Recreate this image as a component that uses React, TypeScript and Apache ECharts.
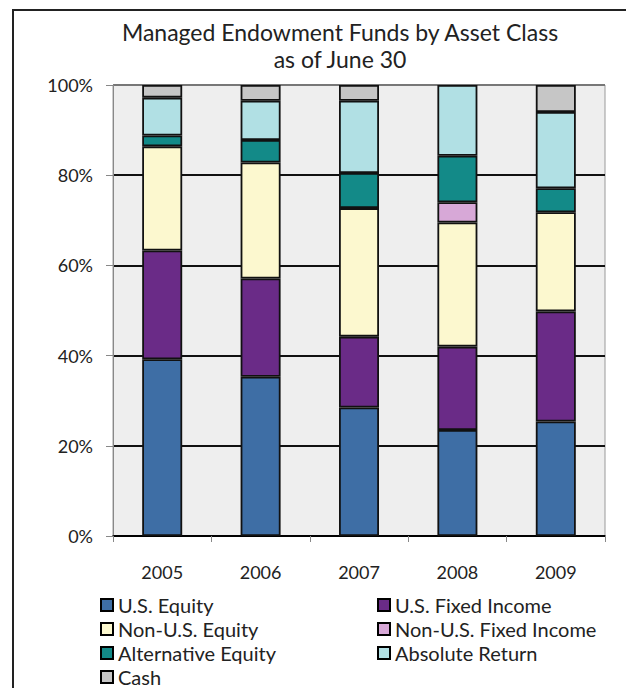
import React, { useEffect, useRef } from "react";
import * as echarts from "echarts";

const years = ["2005", "2006", "2007", "2008", "2009"];
const usEquity = [39.2, 35.3, 28.5, 23.5, 25.4];
const usFixedIncome = [24.1, 21.8, 15.7, 18.5, 24.4];
const nonUsEquity = [23.1, 25.7, 28.5, 27.5, 22.0];
const nonUsFixedIncome = [0, 0, 0, 4.5, 0];
const alternativeEquity = [2.4, 5.0, 7.8, 10.3, 5.3];
const absoluteReturn = [8.4, 8.7, 16.0, 15.7, 16.9];
const cash = [2.8, 3.5, 3.5, 0, 6.0];

const seriesDefs = [
  { name: "U.S. Equity", data: usEquity, color: "#3E6EA5" },
  { name: "U.S. Fixed Income", data: usFixedIncome, color: "#6A2B87" },
  { name: "Non-U.S. Equity", data: nonUsEquity, color: "#FCF8CF" },
  { name: "Non-U.S. Fixed Income", data: nonUsFixedIncome, color: "#D7A8D7" },
  { name: "Alternative Equity", data: alternativeEquity, color: "#138A88" },
  { name: "Absolute Return", data: absoluteReturn, color: "#B1E0E4" },
  { name: "Cash", data: cash, color: "#C6C6C6" },
];

const FONT = "Lato, 'Open Sans', sans-serif";

export default function App() {
  const ref = useRef<HTMLDivElement>(null);
  useEffect(() => {
    document.body.style.margin = "0";
    document.body.style.overflow = "hidden";
    const chart = echarts.init(ref.current!, null, { renderer: "svg" });
    const legendText = { fontFamily: FONT, fontSize: 20, color: "#222", lineHeight: 20 };
    const legendBase = {
      orient: "vertical",
      top: 595,
      height: 120,
      padding: 0,
      itemWidth: 12,
      itemHeight: 12,
      itemGap: 4,
      icon: "rect",
      itemStyle: { borderColor: "#000", borderWidth: 2 },
      textStyle: legendText,
    };
    chart.setOption({
      animation: false,
      backgroundColor: "#ffffff",
      grid: {
        left: 113,
        top: 85,
        right: 21,
        bottom: 152,
        show: true,
        backgroundColor: "#EEEEEE",
        borderColor: "#9A9A9A",
        borderWidth: 1,
      },
      graphic: [
        {
          type: "rect",
          shape: { x: 13, y: 10, width: 700, height: 700 },
          style: { fill: "none", stroke: "#222", lineWidth: 2 },
          silent: true,
        },
        {
          type: "text",
          x: 340,
          y: 32,
          style: {
            text: "Managed Endowment Funds by Asset Class",
            align: "center",
            verticalAlign: "middle",
            fontFamily: FONT,
            fontSize: 23,
            fill: "#222",
          },
        },
        {
          type: "text",
          x: 340,
          y: 59,
          style: {
            text: "as of June 30",
            align: "center",
            verticalAlign: "middle",
            fontFamily: FONT,
            fontSize: 23,
            fill: "#222",
          },
        },
      ],
      legend: [
        {
          ...legendBase,
          left: 100,
          data: ["U.S. Equity", "Non-U.S. Equity", "Alternative Equity", "Cash"],
        },
        {
          ...legendBase,
          left: 377,
          data: ["U.S. Fixed Income", "Non-U.S. Fixed Income", "Absolute Return"],
        },
      ],
      xAxis: {
        type: "category",
        data: years,
        axisLine: { lineStyle: { color: "#000", width: 1.5 } },
        axisTick: { show: true, length: 6, lineStyle: { color: "#888" } },
        axisLabel: { fontFamily: FONT, fontSize: 18, color: "#222", margin: 27 },
      },
      yAxis: {
        type: "value",
        min: 0,
        max: 100,
        interval: 20,
        axisLine: { show: true, lineStyle: { color: "#888", width: 1 } },
        axisTick: { show: true, length: 7, lineStyle: { color: "#888" } },
        axisLabel: {
          fontFamily: FONT,
          fontSize: 18,
          color: "#222",
          margin: 20,
          formatter: (v: number) => v + "%",
        },
        splitLine: {
          show: true,
          lineStyle: { color: ["#000", "#111", "#111", "#111", "#111", "#777"], width: 1.8 },
        },
      },
      series: seriesDefs.map((s) => ({
        name: s.name,
        type: "bar",
        stack: "total",
        barWidth: 40,
        data: s.data.map((v) => (v === 0 ? "-" : v)),
        itemStyle: { color: s.color, borderColor: "#111", borderWidth: 1.8 },
      })),
    });
    return () => chart.dispose();
  }, []);
  return (
    <div
      ref={ref}
      style={{ position: "absolute", left: 0, top: 0, width: 626, height: 688 }}
    />
  );
}
